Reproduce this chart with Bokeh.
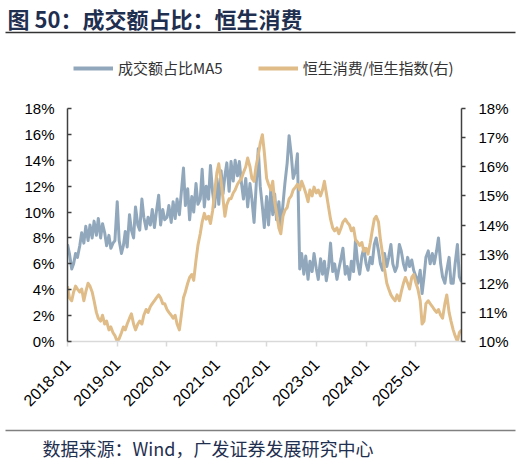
import pandas as pd
from math import pi
from bokeh.plotting import figure
from bokeh.layouts import column
from bokeh.models import (LinearAxis, Range1d, FixedTicker, PrintfTickFormatter,
                          DatetimeTickFormatter, Label, Legend, LegendItem)
from bokeh.embed import file_html
from bokeh.resources import INLINE

# ---- data (semi-monthly readings) ----
# 成交额占比MA5 (%, left axis)
b2018 = [7.5, 6.8, 5.6, 6.0, 6.8, 6.5, 7.4, 8.4, 7.6, 8.9, 7.8, 9.0, 8.0, 9.3, 8.2, 9.5, 8.0, 9.1, 8.4, 7.4, 8.2, 7.2, 7.6, 7.8]
b2019 = [10.8, 7.8, 6.8, 7.4, 8.5, 7.3, 9.8, 8.6, 8.0, 10.4, 9.0, 8.6, 11.0, 9.6, 8.7, 9.6, 9.0, 10.2, 8.8, 10.0, 11.3, 9.0, 10.2, 9.4]
b2020 = [9.6, 10.5, 9.2, 10.8, 9.5, 11.0, 9.8, 11.5, 13.4, 10.5, 11.8, 9.4, 11.2, 10.0, 12.2, 10.6, 11.0, 13.3, 10.4, 12.0, 11.0, 13.6, 11.5, 10.4]
b2021 = [12.6, 10.6, 13.2, 11.4, 12.8, 13.8, 11.6, 13.9, 12.4, 14.0, 12.8, 13.9, 12.2, 11.0, 12.6, 10.4, 12.2, 11.0, 9.2, 11.8, 14.9, 12.0, 10.4, 8.8]
b2022 = [11.2, 9.0, 11.8, 9.8, 11.4, 9.4, 10.8, 8.9, 10.6, 12.2, 13.8, 15.9, 14.4, 12.6, 13.2, 14.5, 5.6, 6.8, 5.2, 6.6, 4.8, 6.2, 5.4, 6.8]
b2023 = [5.6, 4.8, 6.4, 5.2, 6.2, 4.7, 5.8, 7.6, 5.4, 6.0, 4.8, 5.6, 6.4, 7.2, 5.2, 5.8, 4.8, 6.2, 5.4, 7.8, 6.0, 5.2, 6.6, 7.2]
b2024 = [6.0, 5.5, 6.5, 6.0, 7.5, 8.0, 7.0, 6.0, 5.5, 6.8, 5.8, 6.5, 7.5, 6.0, 5.4, 5.8, 7.5, 7.0, 6.0, 5.5, 6.5, 5.8, 6.3, 5.5]
b2025 = [5.0, 4.5, 5.5, 3.7, 5.0, 6.5, 7.0, 6.0, 6.8, 6.0, 7.0, 8.0, 6.0, 5.0, 4.5, 5.5, 6.5, 4.5, 4.5, 6.0, 7.5, 5.0, 4.6]

# 恒生消费/恒生指数 (%, right axis)
o2018 = [11.9, 11.5, 11.4, 11.7, 11.9, 11.8, 11.7, 11.8, 11.4, 11.7, 12.0, 11.9, 11.7, 11.4, 11.0, 10.8, 10.7, 10.9, 10.6, 10.7, 10.4, 10.5, 10.3, 10.2]
o2019 = [10.0, 10.1, 10.3, 10.5, 10.4, 10.6, 10.8, 10.95, 10.6, 10.4, 10.6, 10.7, 10.6, 10.9, 11.1, 11.0, 11.2, 11.3, 11.4, 11.5, 11.6, 11.5, 11.3, 11.3]
o2020 = [11.1, 11.0, 10.9, 10.8, 10.9, 10.6, 10.4, 10.9, 11.5, 11.7, 12.0, 12.2, 12.3, 12.1, 12.8, 13.3, 13.7, 14.1, 14.4, 14.2, 14.3, 14.05, 14.5, 15.1]
o2021 = [15.8, 16.1, 15.5, 14.9, 14.3, 14.7, 14.9, 14.9, 15.1, 15.2, 15.4, 15.5, 15.6, 15.8, 16.0, 16.3, 16.0, 15.6, 15.5, 16.0, 16.4, 16.8, 17.1, 16.5]
o2022 = [15.6, 15.4, 15.2, 15.5, 14.8, 14.4, 13.9, 13.7, 14.3, 14.5, 14.6, 14.9, 15.0, 15.2, 15.3, 15.4, 15.2, 15.5, 15.3, 15.1, 14.8, 15.2, 15.0, 15.3]
o2023 = [15.1, 15.2, 15.0, 15.2, 15.5, 15.1, 14.6, 14.2, 13.9, 13.8, 13.9, 13.7, 13.9, 14.1, 14.2, 14.1, 14.0, 13.8, 13.9, 13.5, 13.4, 13.3, 13.4, 13.1]
o2024 = [13.2, 13.0, 13.4, 13.8, 14.2, 14.3, 14.1, 13.5, 13.0, 12.5, 12.0, 11.8, 11.6, 11.5, 11.4, 11.6, 11.4, 11.7, 12.0, 12.2, 12.0, 11.8, 12.2, 12.3]
o2025 = [12.0, 11.8, 11.4, 10.6, 10.7, 11.3, 11.4, 11.3, 11.2, 11.1, 11.0, 11.1, 10.9, 10.8, 11.3, 11.6, 11.0, 10.7, 10.4, 10.2, 10.0, 10.3, 10.4]

share = b2018 + b2019 + b2020 + b2021 + b2022 + b2023 + b2024 + b2025
ratio = o2018 + o2019 + o2020 + o2021 + o2022 + o2023 + o2024 + o2025
dates = pd.date_range("2018-01-01", periods=len(share), freq="SMS")

tick_labels = ["2018-01", "2019-01", "2020-01", "2021-01", "2022-01", "2023-01", "2024-01", "2025-01"]
left_ticks = [0, 2, 4, 6, 8, 10, 12, 14, 16, 18]
right_ticks = [10, 11, 12, 13, 14, 15, 16, 17, 18]

title_text = "图 50：成交额占比：恒生消费"
source_text = "数据来源：Wind，广发证券发展研究中心"
legend_labels = ["成交额占比MA5", "恒生消费/恒生指数(右)"]

BLUE = "#91A8BC"
ORANGE = "#DFBC88"
NAVY = "#1F2F4F"
TICK_FONT = "Liberation Sans"
CJK = "Noto Sans CJK SC"
W = 516


def bare(fig):
    fig.xgrid.visible = False
    fig.ygrid.visible = False
    fig.outline_line_color = None
    fig.background_fill_color = "white"
    fig.border_fill_color = "white"
    fig.frame_align = False


# ---------- header: title, rule, legend ----------
HH = 98
hp = figure(width=W, height=HH, x_range=Range1d(0, W), y_range=Range1d(HH, 0),
            x_axis_location=None, y_axis_location=None,
            output_backend="svg", toolbar_location=None,
            min_border_left=0, min_border_right=0, min_border_top=0, min_border_bottom=0)
bare(hp)
hp.add_layout(Label(x=7, y=17, text=title_text, text_font=CJK, text_font_size="22px",
                    text_font_style="bold", text_color=NAVY, text_baseline="middle"))
hp.segment(x0=[5], y0=[32], x1=[W - 1], y1=[32], line_color="#333333", line_width=1.5)
# legend proxies (no visible data)
lb = hp.line(x=[0], y=[float("nan")], line_color=BLUE, line_width=4)
lo = hp.line(x=[0], y=[float("nan")], line_color=ORANGE, line_width=4)
legend = Legend(items=[LegendItem(label=legend_labels[0], renderers=[lb]),
                       LegendItem(label=legend_labels[1], renderers=[lo])],
                orientation="horizontal", location=(73, HH - 68 - 10),
                border_line_color=None, background_fill_alpha=0,
                padding=0, margin=0, glyph_width=40, glyph_height=20,
                label_standoff=5, spacing=35, label_height=20,
                label_text_font=CJK, label_text_font_size="15px",
                label_text_color="#333333", label_text_baseline="middle")
hp.add_layout(legend, "center")

# ---------- main chart ----------
MH = 326
p = figure(width=W, height=MH, x_axis_type="datetime",
           x_range=Range1d(dates[0].to_pydatetime(), dates[-1].to_pydatetime()),
           y_range=Range1d(left_ticks[0], left_ticks[-1]),
           output_backend="svg", toolbar_location=None,
           min_border_left=67, min_border_right=W - 461, min_border_top=108 - HH,
           min_border_bottom=MH - (341 - HH))
bare(p)
p.extra_y_ranges = {"r": Range1d(right_ticks[0], right_ticks[-1])}

ya = p.yaxis[0]
ya.ticker = FixedTicker(ticks=left_ticks)
ya.formatter = PrintfTickFormatter(format="%d%%")
ya.axis_line_color = "#404040"
ya.axis_line_width = 1.5
ya.major_tick_line_color = "#404040"
ya.major_tick_line_width = 1.5
ya.major_tick_in = 4
ya.major_tick_out = 0
ya.minor_tick_line_color = None
ya.major_label_standoff = 13
ya.major_label_text_font = TICK_FONT
ya.major_label_text_font_size = "15px"
ya.major_label_text_color = "#000000"

ra = LinearAxis(y_range_name="r", ticker=FixedTicker(ticks=right_ticks),
                formatter=PrintfTickFormatter(format="%d%%"))
ra.axis_line_color = "#404040"
ra.axis_line_width = 1.5
ra.major_tick_line_color = "#404040"
ra.major_tick_line_width = 1.5
ra.major_tick_in = 0
ra.major_tick_out = 4
ra.minor_tick_line_color = None
ra.major_label_standoff = 13
ra.major_label_text_font = TICK_FONT
ra.major_label_text_font_size = "15px"
ra.major_label_text_color = "#000000"
p.add_layout(ra, "right")

xa = p.xaxis[0]
xa.ticker = FixedTicker(ticks=[pd.Timestamp(t + "-01").timestamp() * 1000 for t in tick_labels])
fmt = "%Y-%m"
xa.formatter = DatetimeTickFormatter(days=fmt, months=fmt, years=fmt)
xa.axis_line_color = "#D9D9D9"
xa.axis_line_width = 1.5
xa.major_tick_line_color = "#D9D9D9"
xa.major_tick_line_width = 1.5
xa.major_tick_in = 0
xa.major_tick_out = 5
xa.minor_tick_line_color = None
xa.major_label_orientation = pi / 4
xa.major_label_standoff = 15
xa.major_label_text_font = TICK_FONT
xa.major_label_text_font_size = "16px"
xa.major_label_text_color = "#000000"

p.line(dates, share, line_color=BLUE, line_width=3, line_join="round")
p.line(dates, ratio, y_range_name="r", line_color=ORANGE, line_width=3, line_join="round")

# ---------- footer: rule and source ----------
FH = 460 - HH - MH
fp = figure(width=W, height=FH, x_range=Range1d(0, W), y_range=Range1d(FH, 0),
            x_axis_location=None, y_axis_location=None,
            output_backend="svg", toolbar_location=None,
            min_border_left=0, min_border_right=0, min_border_top=0, min_border_bottom=0)
bare(fp)
top = HH + MH
fp.segment(x0=[5], y0=[430 - top], x1=[W - 1], y1=[430 - top], line_color="#808080", line_width=1.5)
fp.add_layout(Label(x=42, y=447 - top, text=source_text, text_font=CJK, text_font_size="18px",
                    text_color=NAVY, text_baseline="middle"))

layout = column(hp, p, fp, spacing=0)
open("out.html", "w").write(file_html(layout, INLINE))
